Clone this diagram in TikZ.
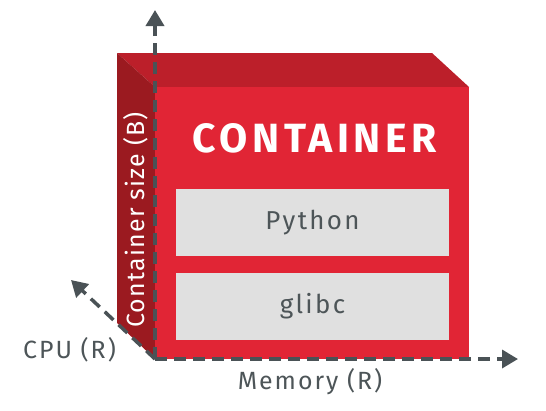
\documentclass[tikz,border=0pt]{standalone}
\usepackage{fontspec}
\setmainfont{Fira Sans}
\newfontfamily\boldface{Fira Sans}[UprightFont=* Bold, LetterSpace=11]
\newfontfamily\boxface{Fira Sans}[LetterSpace=9]
\newfontfamily\labelface{Fira Sans}[LetterSpace=8]
\newfontfamily\sideface{Fira Sans}[LetterSpace=5]
\usetikzlibrary{arrows.meta}
\definecolor{frontred}{RGB}{225,37,53}
\definecolor{topred}{RGB}{188,31,42}
\definecolor{sidered}{RGB}{155,26,32}
\definecolor{boxgray}{RGB}{224,224,224}
\definecolor{txtgray}{RGB}{77,85,88}
\definecolor{axisgray}{RGB}{74,82,86}
\tikzset{
  axisline/.style={draw=axisgray, line width=3.5bp, dash pattern=on 12bp off 7bp,
    -{Triangle[length=16bp,width=18bp,fill=axisgray]}},
  layerbox/.style={fill=boxgray, minimum width=273bp, minimum height=67bp, inner sep=0pt,
    text=txtgray, font=\boxface\fontsize{26}{30}\selectfont},
  axislabel/.style={text=txtgray, font=\labelface\fontsize{25}{30}\selectfont, inner sep=0pt},
}
\begin{document}
\begin{tikzpicture}[x=1bp,y=-1bp]
\useasboundingbox (0,0) rectangle (546,410);
% cube faces
\fill[topred] (117,53) -- (432,53) -- (469,87) -- (155,87) -- cycle;
\fill[sidered] (117,53) -- (155,87) -- (155,359) -- (117,323) -- cycle;
\fill[frontred] (155,87) rectangle (469,359);
% texts
\node[text=white, font=\boldface\fontsize{41}{46}\selectfont, inner sep=0pt] (title) at (314.5,138.5) {CONTAINER};
\node[layerbox] (python) at (312.5,222.5) {Python};
\node[layerbox] (glibc) at (312.5,306.5) {glibc};
\node[text=white, rotate=90, font=\sideface\fontsize{25}{30}\selectfont, inner sep=0pt] (size) at (136,220) {Container size (B)};
% axes
\coordinate (O) at (155,359);
\coordinate (ztip) at (155,10);
\coordinate (xtip) at (518,359);
\coordinate (ytip) at (71,280);
\draw[axisline] (O) -- (ztip);
\draw[axisline] (O) -- (xtip);
\draw[axisline] (O) -- (ytip);
\node[axislabel] (cpu) at (69.5,350) {CPU (R)};
\node[axislabel] (mem) at (310,382) {Memory (R)};
\end{tikzpicture}
\end{document}
